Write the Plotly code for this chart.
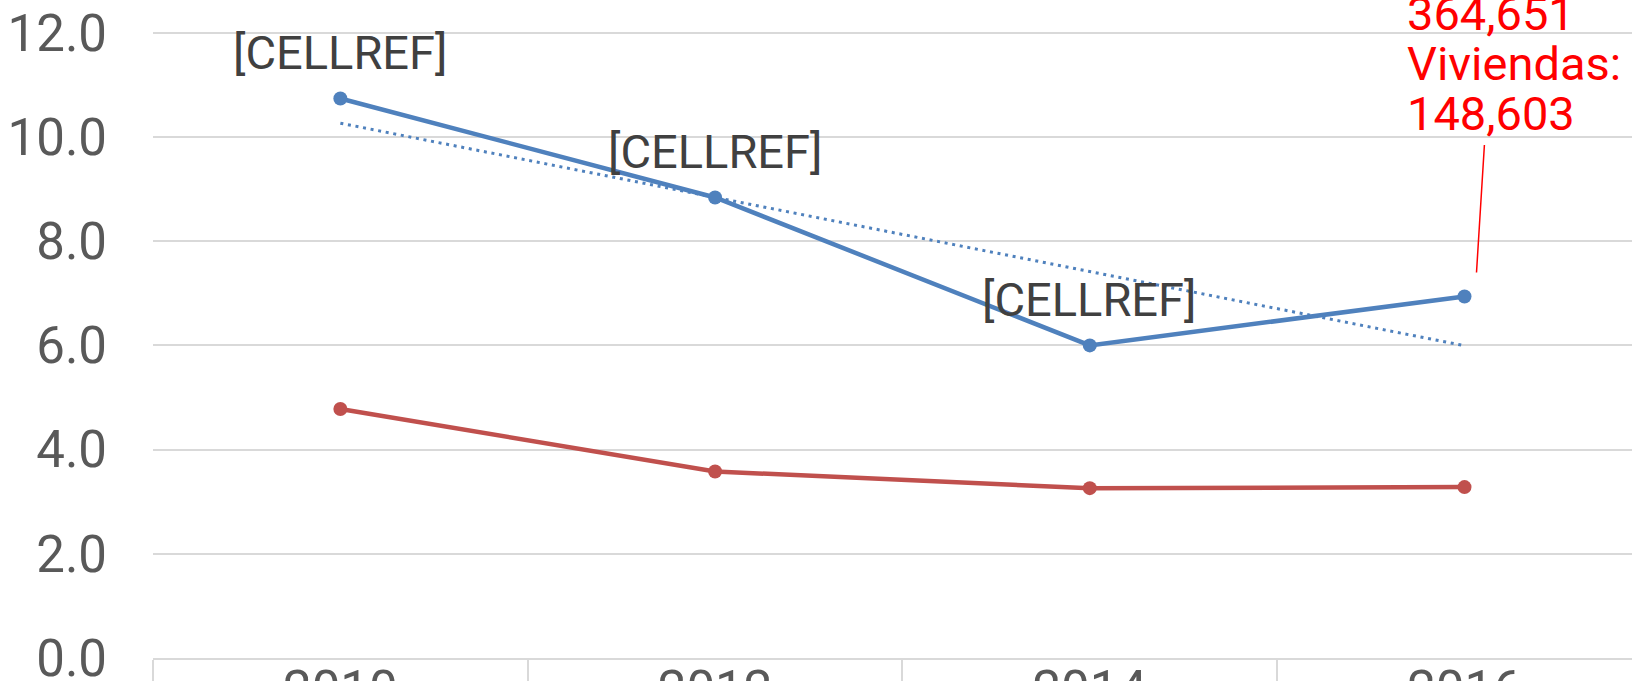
import numpy as np
import plotly.graph_objects as go

years = ["2010", "2012", "2014", "2016"]
blue_vals = [10.74, 8.84, 6.00, 6.94]
red_vals = [4.78, 3.58, 3.26, 3.28]
blue_labels = ["[CELLREF]", "[CELLREF]", "[CELLREF]", None]
callout_lines = ["364,651", "Viviendas:", "148,603"]
y_ticks = [0, 2, 4, 6, 8, 10, 12]

BLUE = "#4f81bd"
RED = "#c0504d"
GRID = "#d9d9d9"
FONT = "Roboto, Liberation Sans, sans-serif"

# linear trendline of the blue series (least squares)
xi = np.arange(len(blue_vals))
slope, intercept = np.polyfit(xi, blue_vals, 1)
trend = [intercept + slope * i for i in xi]

fig = go.Figure()
fig.add_trace(go.Scatter(x=years, y=trend, mode="lines",
                         line=dict(color=BLUE, width=3, dash="3px,4.7px"),
                         hoverinfo="skip", showlegend=False))
fig.add_trace(go.Scatter(x=years, y=red_vals, mode="lines+markers",
                         line=dict(color=RED, width=4.5),
                         marker=dict(color=RED, size=14), showlegend=False))
fig.add_trace(go.Scatter(x=years, y=blue_vals, mode="lines+markers",
                         line=dict(color=BLUE, width=4.5),
                         marker=dict(color=BLUE, size=14), showlegend=False))

for i, (v, lab) in enumerate(zip(blue_vals, blue_labels)):
    if lab:
        fig.add_annotation(x=i, y=v, xref="x", yref="y", text=lab, showarrow=False,
                           yanchor="bottom", yshift=16,
                           font=dict(family=FONT, size=47, color="#404040"))

last = len(blue_vals) - 1
# callout for the last point, one line per annotation (tighter line spacing)
n = len(callout_lines)
for k, line in enumerate(callout_lines):
    fig.add_annotation(x=last, y=blue_vals[last], xref="x", yref="y",
                       text=line, showarrow=False,
                       xanchor="left", yanchor="middle", align="left",
                       xshift=-60, yshift=183 + 50 * (n - 1 - k),
                       font=dict(family=FONT, size=47, color="#ff0000"))
fig.add_annotation(x=last, y=blue_vals[last], xref="x", yref="y",
                   text="", showarrow=True, font=dict(size=1),
                   arrowhead=0, arrowwidth=1.5, arrowcolor="#ff0000",
                   ax=8, ay=-129, xshift=12, yshift=24)

fig.update_layout(
    width=1632, height=681,
    margin=dict(l=153, r=0, t=0, b=23),
    plot_bgcolor="white", paper_bgcolor="white",
    font=dict(family=FONT, size=51, color="#595959"),
    xaxis=dict(type="category", range=[-0.5, 3.447], showgrid=False,
               automargin=False,
               showline=True, linecolor=GRID, linewidth=1.5,
               ticks="outside", tickson="boundaries", ticklen=30,
               tickcolor=GRID, tickwidth=1.5, ticklabelstandoff=-14,
               ticklabeloverflow="allow",
               tickfont=dict(size=51, color="#595959")),
    yaxis=dict(range=[0, 12.63], tickvals=y_ticks, tickformat=".1f",
               automargin=False, ticklabeloverflow="allow",
               showgrid=True, gridcolor=GRID, gridwidth=1.5, zeroline=False,
               showline=False, ticks="", ticklabelstandoff=45,
               tickfont=dict(size=51, color="#595959")),
)

fig.write_html("out.html", config={"displayModeBar": False},
               post_script="document.body.style.margin='0';document.body.style.overflow='hidden';")
